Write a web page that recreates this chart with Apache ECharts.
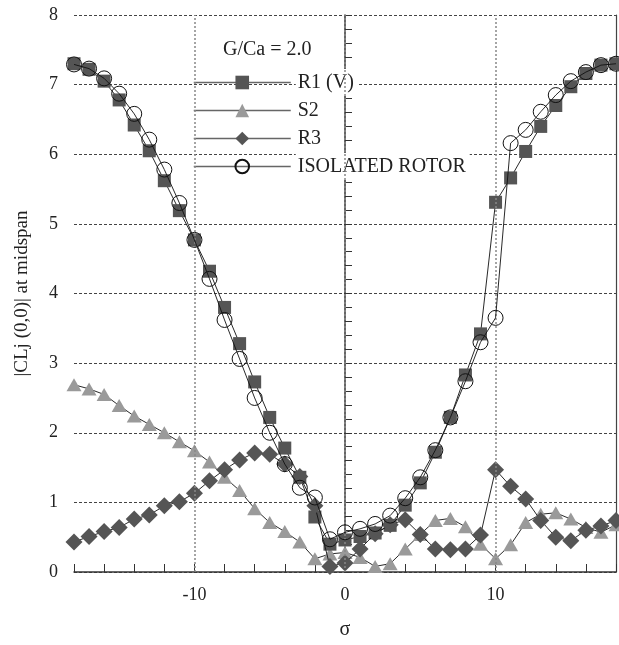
<!DOCTYPE html>
<html>
<head>
<meta charset="utf-8">
<script src="https://cdn.jsdelivr.net/npm/echarts@6/dist/echarts.min.js"></script>
<style>
html,body{margin:0;padding:0;background:#fff;}
#chart{width:619px;height:645px;}
</style>
</head>
<body>
<div id="chart"></div>
<script>
// sigma values
const sigma = [-18,-17,-16,-15,-14,-13,-12,-11,-10,-9,-8,-7,-6,-5,-4,-3,-2,-1,0,1,2,3,4,5,6,7,8,9,10,11,12,13,14,15,16,17,18];
const r1 = [7.30,7.22,7.05,6.78,6.42,6.05,5.62,5.19,4.77,4.32,3.80,3.28,2.73,2.22,1.78,1.36,0.79,0.40,0.46,0.51,0.56,0.67,0.96,1.28,1.72,2.22,2.83,3.42,5.31,5.66,6.04,6.40,6.70,6.97,7.16,7.28,7.30];
const s2 = [2.69,2.63,2.55,2.39,2.24,2.12,2.00,1.87,1.74,1.58,1.36,1.17,0.91,0.71,0.58,0.43,0.19,0.26,0.28,0.21,0.08,0.12,0.33,0.54,0.74,0.77,0.65,0.40,0.19,0.39,0.71,0.83,0.85,0.76,0.64,0.57,0.68];
const r3 = [0.43,0.51,0.58,0.64,0.76,0.82,0.95,1.01,1.13,1.31,1.47,1.61,1.71,1.69,1.55,1.37,0.95,0.08,0.13,0.33,0.55,0.68,0.75,0.54,0.33,0.32,0.33,0.53,1.47,1.23,1.05,0.74,0.50,0.45,0.60,0.66,0.74];
const iso = [7.29,7.23,7.09,6.87,6.58,6.21,5.78,5.30,4.77,4.21,3.62,3.06,2.50,2.00,1.55,1.21,1.07,0.47,0.57,0.62,0.69,0.81,1.06,1.36,1.75,2.22,2.74,3.30,3.65,6.16,6.35,6.61,6.85,7.05,7.18,7.28,7.30];
const xLabels = [-10, 0, 10];
const vGrid = [-10, 0, 10];
const seriesNames = ['R1 (V)', 'S2', 'R3', 'ISOLATED ROTOR'];
const titleText = 'G/Ca = 2.0';
const xName = 'σ';
const yName = '|CLj (0,0)| at midspan';

const pairs = ys => sigma.map((x, i) => [x, ys[i]]);
const FONT = 'Liberation Serif';

const chart = echarts.init(document.getElementById('chart'), null, {renderer: 'canvas'});
const lineStyle = {color: '#111', width: 0.9};

chart.setOption({
  animation: false,
  backgroundColor: '#fff',
  textStyle: {fontFamily: FONT},
  title: {
    text: titleText,
    left: 219, top: 38,
    padding: [2, 4, 2, 4],
    backgroundColor: '#fff',
    textStyle: {fontFamily: FONT, fontSize: 20, fontWeight: 'normal', color: '#222'}
  },
  legend: {
    data: seriesNames,
    orient: 'vertical',
    left: 193, top: 69,
    padding: 0,
    itemWidth: 97, itemHeight: 17,
    itemGap: 1,
    lineStyle: {color: '#666', width: 1.5},
    textStyle: {fontFamily: FONT, fontSize: 20, color: '#222', backgroundColor: '#fff', padding: [3, 4, 3, 2], lineHeight: 21}
  },
  grid: {left: 74, right: 2, top: 15, bottom: 72, containLabel: false},
  xAxis: {
    type: 'value', min: -18, max: 18, interval: 2,
    name: xName, nameLocation: 'middle', nameGap: 48,
    nameTextStyle: {fontFamily: FONT, fontSize: 20, color: '#222'},
    axisLine: {onZero: false, lineStyle: {color: '#333', width: 1.5}},
    axisTick: {inside: true, length: 8, lineStyle: {color: '#333', width: 1}},
    axisLabel: {fontFamily: FONT, fontSize: 18, color: '#222', margin: 14,
      formatter: v => xLabels.indexOf(v) >= 0 ? String(v) : ''},
    splitLine: {show: false}
  },
  yAxis: [{
    type: 'value', min: 0, max: 8, interval: 1,
    name: yName, nameLocation: 'middle', nameGap: 42,
    nameTextStyle: {fontFamily: FONT, fontSize: 19, color: '#222'},
    axisLine: {show: true, lineStyle: {color: '#333', width: 1.5}},
    axisTick: {inside: true, length: 7, lineStyle: {color: '#333'}},
    minorTick: {show: true, splitNumber: 5, length: 7, lineStyle: {color: '#333'}},
    axisLabel: {fontFamily: FONT, fontSize: 18, color: '#222', margin: 16},
    splitLine: {show: true, lineStyle: {color: '#444', width: 1, type: [3, 2]}}
  }, {
    type: 'value', min: 0, max: 8, interval: 1, position: 'right',
    axisLine: {show: true, lineStyle: {color: '#444', width: 1.2}},
    axisTick: {show: false}, axisLabel: {show: false}, splitLine: {show: false}
  }],
  series: [
    {
      name: 'vgrid', type: 'line', data: [], z: 0, silent: true,
      markLine: {
        silent: true, symbol: 'none', label: {show: false},
        lineStyle: {color: '#888', width: 1.5, type: [2, 2]},
        data: vGrid.map(v => ({xAxis: v}))
      }
    },
    {
      name: 'S2', type: 'line', data: pairs(s2), z: 2,
      symbol: 'triangle', symbolSize: [15, 13],
      itemStyle: {color: '#9a9a9a'}, lineStyle: lineStyle
    },
    {
      name: 'R1 (V)', type: 'line', data: pairs(r1), z: 3,
      symbol: 'rect', symbolSize: 13,
      itemStyle: {color: '#555'}, lineStyle: lineStyle
    },
    {
      name: 'R3', type: 'line', data: pairs(r3), z: 4,
      symbol: 'diamond', symbolSize: 17,
      itemStyle: {color: '#555'}, lineStyle: lineStyle
    },
    {
      name: 'ISOLATED ROTOR', type: 'line', data: pairs(iso), z: 5,
      symbol: 'circle', symbolSize: 15,
      itemStyle: {color: 'rgba(255,255,255,0)', borderColor: '#111', borderWidth: 1},
      lineStyle: lineStyle
    }
  ]
});
</script>
</body>
</html>
